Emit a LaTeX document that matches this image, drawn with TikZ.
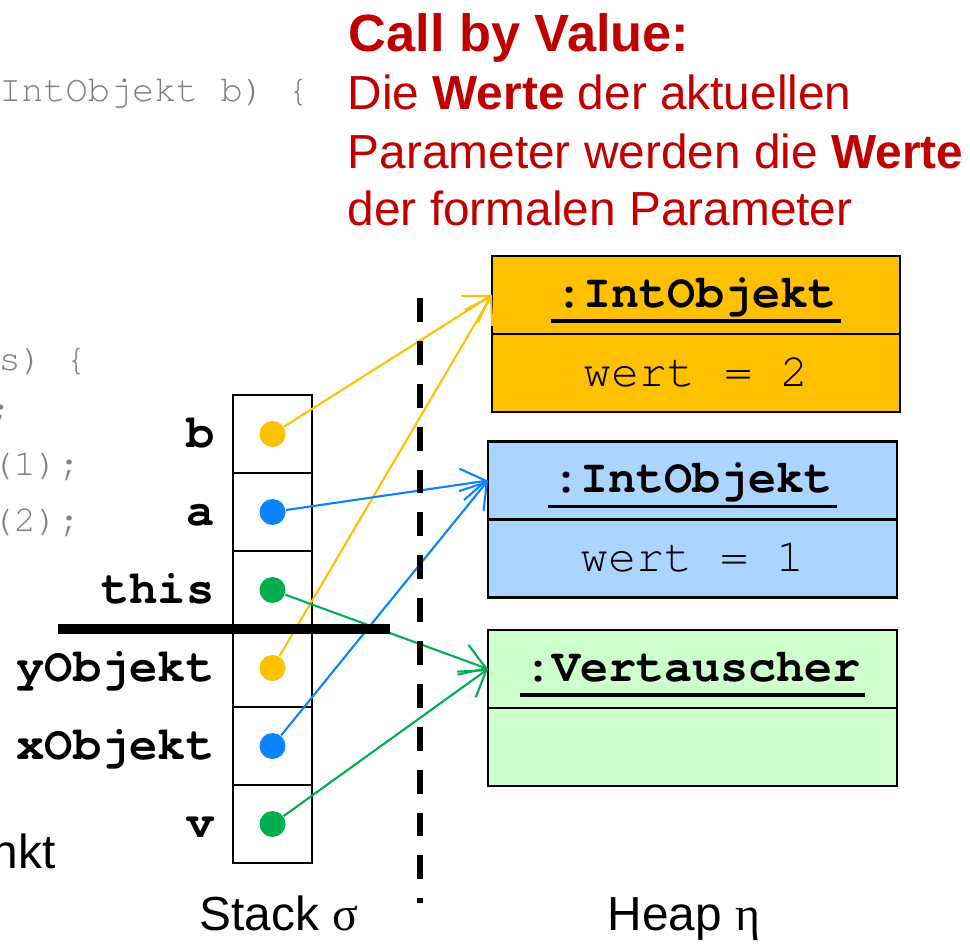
\documentclass[tikz,border=0pt]{standalone}
\usepackage{fontspec}
\setmainfont{Liberation Sans}
\setmonofont{TeX Gyre Cursor}
\newfontfamily\greekfont{Liberation Serif}
\usetikzlibrary{arrows.meta,positioning}
\definecolor{cbvred}{HTML}{C00000}
\definecolor{objorange}{HTML}{FFC000}
\definecolor{objblue}{HTML}{ABD5FF}
\definecolor{objgreen}{HTML}{CCFFCC}
\definecolor{ptrorange}{HTML}{FFC000}
\definecolor{ptrblue}{HTML}{0A84FF}
\definecolor{ptrgreen}{HTML}{00B050}
\definecolor{codegray}{HTML}{808080}

\begin{document}
\begin{tikzpicture}[
  cell/.style={draw, line width=0.6pt, minimum width=0.79cm, minimum height=0.78cm, inner sep=0pt, outer sep=0pt},
  dot/.style={circle, inner sep=0pt, minimum size=0.26cm},
  var/.style={font=\fontsize{13.4}{16}\ttfamily\bfseries, inner sep=0pt},
  objbox/.style={draw, line width=0.6pt, minimum width=4.08cm, minimum height=0.78cm, inner sep=0pt, outer sep=0pt},
  objtext/.style={font=\fontsize{13.3}{16}\ttfamily, inner sep=0pt},
  ptr/.style={line width=0.6pt, -{Straight Barb[length=7pt,width=9pt]}},
  code/.style={font=\fontsize{10.5}{12}\ttfamily, text=codegray, inner sep=0pt},
  sans/.style={font=\fontsize{13.6}{16}\selectfont, inner sep=0pt}
]
\useasboundingbox (0,0) rectangle (9.70,9.43);

% code fragments, cut off at the left edge
\node[code, anchor=base east] (code1) at (3.10,8.41) {IntObjekt b) \{};
\node[code, anchor=base east] (code2) at (0.88,5.73) {s) \{};
\node[code, anchor=base east] (code3) at (0.125,5.23) {;};
\node[code, anchor=base east] (code4) at (0.81,4.68) {(1);};
\node[code, anchor=base east] (code5) at (0.81,4.12) {(2);};
\node[sans, anchor=base east] (nkt) at (0.56,0.75) {nkt};

% call by value
\node[anchor=base west, inner sep=0pt, text=cbvred, font=\fontsize{14.9}{18}\bfseries] (cbv) at (3.48,8.91) {Call by Value:};
\node[sans, text=cbvred, anchor=base west] (cbv1) at (3.47,8.33) {Die \textbf{Werte} der aktuellen};
\node[sans, text=cbvred, anchor=base west] (cbv2) at (3.47,7.75) {Parameter werden die \textbf{Werte}};
\node[sans, text=cbvred, anchor=base west] (cbv3) at (3.47,7.18) {der formalen Parameter};

% stack
\node[cell] (cb) at (2.725,5.09) {};
\node[cell, below=0pt of cb] (ca) {};
\node[cell, below=0pt of ca] (cthis) {};
\node[cell, below=0pt of cthis] (cy) {};
\node[cell, below=0pt of cy] (cx) {};
\node[cell, below=0pt of cx] (cv) {};
\foreach \c/\t/\col in {cb/b/ptrorange, ca/a/ptrblue, cthis/this/ptrgreen,
    cy/yObjekt/ptrorange, cx/xObjekt/ptrblue, cv/v/ptrgreen}{
  \node[dot, fill=\col] (d\c) at (\c) {};
  \node[var, anchor=base east] (l\c) at ([xshift=-1.8mm,yshift=-1.3mm]\c.west) {\t};
}

% heap
\node[objbox, fill=objorange] (head1) at (6.96,6.48) {};
\node[objbox, fill=objorange, below=0pt of head1] (body1) {};
\node[objtext, anchor=base] (name1) at ([yshift=-1.2mm]head1.center) {\bfseries :IntObjekt};
\node[objtext, anchor=base] (val1) at ([yshift=-1.3mm]body1.center) {wert = 2};

\node[objbox, fill=objblue, minimum width=4.09cm] (head2) at (6.925,4.625) {};
\node[objbox, fill=objblue, minimum width=4.09cm, below=0pt of head2] (body2) {};
\node[objtext, anchor=base] (name2) at ([yshift=-1.2mm]head2.center) {\bfseries :IntObjekt};
\node[objtext, anchor=base] (val2) at ([yshift=-1.3mm]body2.center) {wert = 1};

\node[objbox, fill=objgreen, minimum width=4.09cm] (head3) at (6.925,2.74) {};
\node[objbox, fill=objgreen, minimum width=4.09cm, below=0pt of head3] (body3) {};
\node[objtext, anchor=base] (name3) at ([yshift=-1.2mm]head3.center) {\bfseries :Vertauscher};

\foreach \n in {name1,name2,name3}
  \draw[line width=1.1pt] ([xshift=-0.4mm,yshift=-1.4mm]\n.base west) -- ([xshift=0.4mm,yshift=-1.4mm]\n.base east);

% references
\draw[ptr, ptrorange] (dcb) -- (head1.west);
\draw[ptr, ptrorange] (dcy) -- (head1.west);
\draw[ptr, ptrblue] (dca) -- (head2.west);
\draw[ptr, ptrblue] (dcx) -- (head2.west);
\draw[ptr, ptrgreen] (dcthis) -- (head3.west);
\draw[ptr, ptrgreen] (dcv) -- (head3.west);

% frame boundary and stack/heap separator
\draw[line width=3.1pt] (0.58,3.14) -- (3.90,3.14);
\draw[line width=1.55pt, dash pattern=on 6.8pt off 5.4pt] (4.20,6.45) -- (4.20,0.40);

\node[sans, anchor=base west] (stack) at (1.99,0.13) {Stack {\greekfont σ}};
\node[sans, anchor=base west] (heap) at (6.07,0.13) {Heap {\greekfont η}};
\end{tikzpicture}
\end{document}
